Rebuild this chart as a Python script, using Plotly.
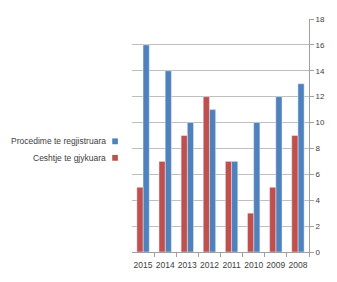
import plotly.graph_objects as go

years = ["2008", "2009", "2010", "2011", "2012", "2013", "2014", "2015"]
procedime = [13, 12, 10, 7, 11, 10, 14, 16]
ceshtje = [9, 5, 3, 7, 12, 9, 7, 5]
y_ticks = [0, 2, 4, 6, 8, 10, 12, 14, 16, 18]
series_names = ["Procedime te regjistruara", "Cesh\u0074je te gjykuara"]
series_colors = ["#4F81BD", "#C0504D"]

L, R, T, B = 132, 17, 19, 23
W, H = 337, 282
pw, ph = W - L - R, H - T - B

fig = go.Figure()
fig.add_trace(go.Bar(x=years, y=procedime, name=series_names[0],
                     marker_color=series_colors[0]))
fig.add_trace(go.Bar(x=years, y=ceshtje, name=series_names[1],
                     marker_color=series_colors[1]))

# mirrored-style legend: text on the left, swatch on the right
legend_y_px = [145, 162]
annotations, shapes = [], []
for name, color, ypx in zip(series_names, series_colors, legend_y_px):
    yp = (H - B - ypx) / ph
    annotations.append(dict(x=(107 - L) / pw, y=yp, xref="paper", yref="paper",
                            text=name, showarrow=False, xanchor="right",
                            yanchor="middle",
                            font=dict(size=8.5, color="#404040")))
    shapes.append(dict(type="rect", xref="paper", yref="paper",
                       x0=(111 - L) / pw, x1=(117 - L) / pw,
                       y0=yp - 3 / ph, y1=yp + 3 / ph,
                       fillcolor=color, line=dict(width=0)))

fig.update_layout(
    width=W, height=H,
    margin=dict(l=L, r=R, t=T, b=B),
    paper_bgcolor="white", plot_bgcolor="white",
    barmode="group", bargap=0.44, bargroupgap=0,
    font=dict(family="Liberation Sans, Arial, sans-serif", size=9, color="#404040"),
    showlegend=False,
    annotations=annotations, shapes=shapes,
)
fig.update_xaxes(autorange="reversed", ticks="outside", tickson="boundaries",
                 ticklen=4, tickcolor="#A0A0A0", showline=True, linecolor="#A0A0A0",
                 showgrid=False, gridcolor="rgba(0,0,0,0)", zeroline=False,
                 tickangle=0, ticklabelstandoff=5,
                 tickfont=dict(size=8.5, color="#404040"))
fig.update_yaxes(side="right", range=[0, 18], tickvals=y_ticks, showgrid=True,
                 gridcolor="#BFBFBF", gridwidth=1, showline=True, linecolor="#A0A0A0",
                 ticks="outside", ticklen=4, tickcolor="#A0A0A0", zeroline=False,
                 tickfont=dict(size=8, color="#404040"))

fig.write_html("out.html", config={"displayModeBar": False},
               post_script="document.body.style.margin='0';document.body.style.overflow='hidden';")
